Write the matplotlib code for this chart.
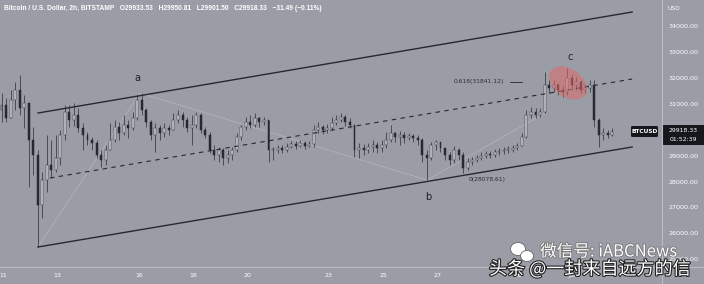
import matplotlib
matplotlib.use("Agg")
import matplotlib.pyplot as plt
import matplotlib.patheffects as pe
from matplotlib.patches import Ellipse, Rectangle, FancyBboxPatch
from matplotlib import transforms

# 4h candles, x in days counted from May 11 00:00
t0 = -0.055
step = 1 / 6
open0 = 30760
close = [30950, 30450, 31150, 31530, 30840, 31030, 29600, 29020, 27090, 28060,
         28640, 28440, 28910, 29800, 30680, 30370, 30570, 30070, 29800, 29600,
         29490, 29020, 28830, 29220, 29600, 30100, 29870, 30180, 30070, 30450,
         31150, 30760, 30300, 29800, 30070, 29870, 30070, 29990, 30370, 30570,
         30370, 30070, 30180, 30570, 29990, 29800, 29220, 29020, 29220, 28910,
         29020, 29220, 29720, 30100, 30300, 30180, 30450, 30300, 30370, 29220,
         29220, 29290, 29220, 29330, 29450, 29370, 29490, 29370, 29450, 29990,
         30100, 29990, 30070, 30260, 30370, 30490, 30300, 30180, 29220, 29290,
         29220, 29330, 29410, 29290, 29410, 29600, 29870, 29720, 29800, 29680,
         29760, 29680, 29600, 29020, 28910, 29410, 29530, 29290, 29020, 28830,
         29220, 29020, 28520, 28750, 28830, 28910, 28990, 29060, 29020, 29140,
         29180, 29220, 29220, 29290, 29370, 29720, 30570, 30680, 30570, 30680,
         31720, 31610, 31720, 31530, 31450, 31990, 31720, 31840, 31530, 31610,
         31720, 30370, 29800, 29870, 29800, 29920]
high = [31420, 31220, 31530, 31840, 32110, 31340, 31030, 30100, 29220, 28370,
        29800, 29600, 29800, 29990, 30950, 30950, 31030, 30840, 30260, 29910,
        29720, 29600, 29220, 29410, 30260, 30370, 30300, 30570, 30370, 30680,
        31340, 31420, 30840, 30370, 30260, 30180, 30260, 30180, 30640, 30760,
        30680, 30490, 30570, 30680, 30640, 30100, 29910, 29410, 29330, 29290,
        29220, 29330, 29870, 30180, 30490, 30570, 30640, 30490, 30490, 30370,
        29330, 29410, 29410, 29490, 29560, 29560, 29600, 29560, 29560, 30180,
        30300, 30180, 30220, 30490, 30570, 30640, 30570, 30450, 30180, 29490,
        29450, 29490, 29600, 29530, 29600, 29910, 30180, 29910, 29950, 29910,
        29870, 29830, 29800, 29680, 29220, 29530, 29600, 29530, 29290, 29140,
        29370, 29290, 29140, 28910, 28950, 29020, 29140, 29180, 29180, 29260,
        29290, 29330, 29370, 29410, 29490, 29870, 30760, 30880, 30840, 30840,
        32230, 31920, 31920, 31800, 31690, 32380, 32150, 32030, 31920, 31760,
        31920, 31920, 30450, 30070, 29990, 30070]
low = [30300, 30300, 30450, 30760, 30570, 30070, 27790, 28250, 25470, 26590,
       27600, 28140, 28370, 28640, 29600, 30100, 30140, 29910, 29220, 29410,
       29220, 28910, 28560, 28640, 29220, 29530, 29600, 29800, 29680, 29990,
       30370, 30570, 30100, 29600, 29140, 29600, 29720, 29800, 29990, 30260,
       30100, 29910, 29410, 30070, 29870, 29680, 29100, 28830, 28750, 28640,
       28710, 28830, 29140, 29600, 29990, 30070, 30100, 30100, 30180, 28750,
       28830, 29100, 29100, 29140, 29290, 29260, 29330, 29260, 29330, 29330,
       29870, 29830, 29870, 29990, 30180, 30300, 30140, 30070, 28950, 28910,
       29020, 29100, 29140, 29100, 29140, 29290, 29530, 29530, 29410, 29490,
       29600, 29530, 29410, 28750, 28060, 28830, 29220, 29140, 28830, 28640,
       28710, 28830, 28330, 28440, 28640, 28750, 28830, 28910, 28910, 28950,
       29020, 29060, 29100, 29140, 29220, 29370, 29680, 30450, 30450, 30490,
       30640, 31420, 31450, 31340, 31260, 31340, 31530, 31530, 31420, 31420,
       31450, 30100, 29330, 29600, 29680, 29760]

# drawings: channel (days, price)
upper_x, upper_y = [1.289, 23.17], [30643, 34540]
lower_x, lower_y = [1.289, 23.17], [25474, 29332]
mid_x, mid_y = [1.731, 23.17], [28136, 31955]
wave_x = [1.289, 5.046, 15.62, 19.96]
wave_y = [25474, 31415, 28058, 30643]

price_ticks = [25000, 26000, 27000, 28000, 29000, 31000, 32000, 33000, 34000]
day_ticks = [0, 2, 5, 7, 9, 12, 14, 16, 19, 21, 23]
day_labels = ["11", "13", "16", "18", "20", "23", "25", "27", "30", "Jun", "3"]

bg = "#9a9da6"
dark = "#262931"

fig = plt.figure(figsize=(7.04, 2.84), dpi=100, facecolor=bg)
ax = fig.add_axes([0, 17 / 284, 662 / 704, 267 / 284])
ax.set_facecolor(bg)
ax.set_xlim(-0.1105, 24.27)
ax.set_ylim(24702, 35003)
for s in ax.spines.values():
    s.set_visible(False)

n = len(close)
xs = [t0 + i * step for i in range(n)]
opens = [open0] + close[:-1]
bw = 0.072
for i in range(n):
    o, c = opens[i], close[i]
    up = c >= o
    ax.vlines(xs[i], low[i], high[i], color="#33363e", lw=0.55, zorder=2)
    bot = min(o, c)
    h = max(abs(c - o), 25)
    ax.add_patch(Rectangle((xs[i] - bw / 2, bot), bw, h,
                           facecolor="#dcdde1" if up else dark,
                           edgecolor=dark, lw=0.35, zorder=3))

ax.plot(upper_x, upper_y, color=dark, lw=1.0, zorder=4)
ax.plot(lower_x, lower_y, color=dark, lw=1.0, zorder=4)
ax.plot(mid_x, mid_y, color=dark, lw=0.8, ls=(0, (4, 4)), zorder=4)
ax.plot(wave_x, wave_y, color="#b4b7be", lw=0.5, zorder=1)

ax.text(4.935, 31994, "a", fontsize=7, color="#1e2026", ha="center", va="center")
ax.text(15.65, 27403, "b", fontsize=7, color="#1e2026", ha="center", va="center")
ax.text(20.88, 32804, "c", fontsize=7, color="#1e2026", ha="center", va="center")
ax.text(16.61, 31841, "0.618(31841.12)", fontsize=4.3, color="#2a2d35", va="center")
ax.plot([18.67, 19.12], [31841, 31841], color=dark, lw=0.6)
ax.text(17.13, 28078, "0(28078.61)", fontsize=4.3, color="#2a2d35", va="center")

ell = Ellipse((0, 0), 0.42, 0.28, angle=-35, facecolor="#e06a6a", alpha=0.55,
              edgecolor="none", zorder=5,
              transform=fig.dpi_scale_trans + transforms.ScaledTranslation(20.81, 31801, ax.transData))
ax.add_patch(ell)

ax.set_xticks(day_ticks)
ax.set_xticklabels(day_labels)
ax.yaxis.tick_right()
ax.set_yticks(price_ticks)
ax.set_yticklabels([f"{p:.2f}" for p in price_ticks])
ax.tick_params(axis="x", length=0, pad=4, labelsize=4.5, labelcolor="white")
ax.tick_params(axis="y", length=0, pad=5, labelsize=4.6, labelcolor="white")

# separators
fig.add_artist(plt.Line2D([662 / 704, 662 / 704], [0, 1], color="#b9bcc3", lw=0.8))
fig.add_artist(plt.Line2D([0, 1], [17 / 284, 17 / 284], color="#b9bcc3", lw=0.8))

fig.text(668 / 704, 1 - 8 / 284, "USD", fontsize=4.3, color="white", va="center")
fig.text(4 / 704, 1 - 8 / 284,
         "Bitcoin / U.S. Dollar, 2h, BITSTAMP   O29933.53   H29950.81   L29901.50   C29918.33   \u221231.49 (\u22120.11%)",
         fontsize=4.8, color="white", va="center", family="Liberation Sans", weight="bold")

# last price tags
fig.add_artist(Rectangle((663 / 704, 1 - 145 / 284), 41 / 704, 20 / 284,
                         transform=fig.transFigure, facecolor="#15171d", edgecolor="none"))
fig.text(683 / 704, 1 - 130.5 / 284, "29918.33", fontsize=4.4, color="white", ha="center", va="center")
fig.text(683 / 704, 1 - 139.5 / 284, "01:52:39", fontsize=4.4, color="white", ha="center", va="center")
fig.add_artist(FancyBboxPatch((631 / 704, 1 - 137 / 284), 27 / 704, 11 / 284,
                              boxstyle="round,pad=0,rounding_size=0.003",
                              transform=fig.transFigure, facecolor="#15171d", edgecolor="none"))
fig.text(644.5 / 704, 1 - 131.5 / 284, "BTCUSD", fontsize=4.2, color="white",
         ha="center", va="center", weight="bold")

# watermark
stroke = [pe.withStroke(linewidth=1.6, foreground="#222222")]
fig.add_artist(Ellipse((518 / 704, 1 - 249 / 284), 15 / 704, 13 / 284, transform=fig.transFigure,
                       facecolor="white", edgecolor="#666666", lw=0.6))
fig.add_artist(Ellipse((527 / 704, 1 - 256 / 284), 13 / 704, 11 / 284, transform=fig.transFigure,
                       facecolor="white", edgecolor="#666666", lw=0.6))
fig.text(540 / 704, 1 - 252 / 284, "微信号: iABCNews", fontsize=12, color="white",
         family=["Noto Sans CJK SC", "DejaVu Sans"], va="center",
         path_effects=[pe.withStroke(linewidth=1.2, foreground="#777777")])
fig.text(489 / 704, 1 - 269 / 284, "头条 @一封来自远方的信", fontsize=13, color="white",
         family=["Noto Sans CJK SC", "DejaVu Sans"], va="center", path_effects=stroke)

fig.savefig("out.png", dpi=100, facecolor=bg)
